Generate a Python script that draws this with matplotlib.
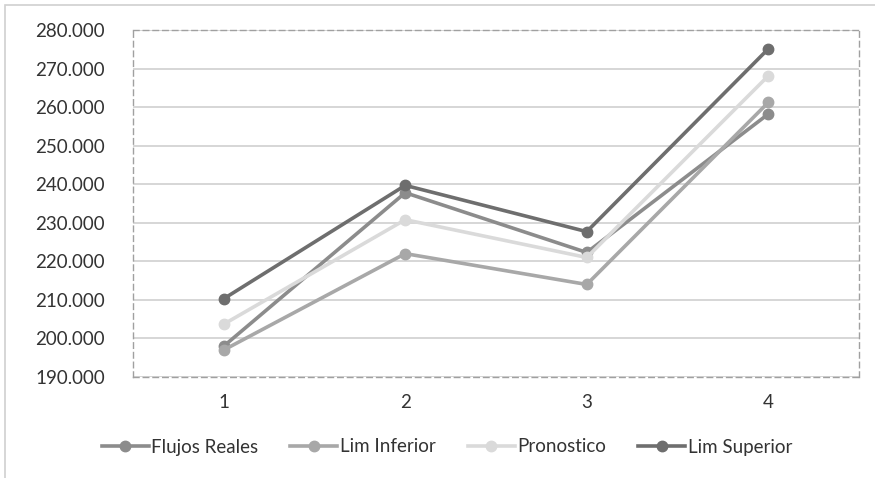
import matplotlib.pyplot as plt
from matplotlib.patches import Rectangle
from matplotlib.ticker import FuncFormatter

plt.rcParams['font.family'] = ['Lato', 'DejaVu Sans']

periodos = [1, 2, 3, 4]
flujos_reales = [198.0, 237.8, 222.3, 258.2]
lim_inferior = [197.0, 222.0, 214.0, 261.2]
pronostico = [203.7, 230.8, 221.0, 268.1]
lim_superior = [210.3, 239.7, 227.7, 275.1]

series = [
    ('Flujos Reales', flujos_reales, '#8c8c8c'),
    ('Lim Inferior', lim_inferior, '#a8a8a8'),
    ('Pronostico', pronostico, '#dadada'),
    ('Lim Superior', lim_superior, '#6e6e6e'),
]

fig = plt.figure(figsize=(8.75, 4.78), dpi=100)
ax = fig.add_axes([133 / 875, 1 - 377 / 478, 726 / 875, 347 / 478])

# marco exterior del grafico
fig.patches.append(Rectangle((5 / 875, -0.1), 1.2, 1 - 5 / 478 + 0.1,
                             transform=fig.transFigure, fill=False,
                             edgecolor='#d0d0d0', linewidth=1.2))

for nombre, valores, color in series:
    ax.plot(periodos, valores, color=color, linewidth=2.6, marker='o',
            markersize=7.5, label=nombre, zorder=3)

ax.set_xlim(0.5, 4.5)
ax.set_ylim(190, 280)
ax.set_yticks(range(190, 281, 10))
ax.set_xticks(periodos)
ax.yaxis.set_major_formatter(FuncFormatter(lambda v, p: '%d.000' % v))
ax.grid(axis='y', color='#cfcfcf', linewidth=1.2, zorder=0)
ax.tick_params(length=0, labelsize=13.5, colors='#333333')
ax.tick_params(axis='y', pad=20)
ax.tick_params(axis='x', pad=12)
for s in ax.spines.values():
    s.set_color('#a0a0a0')
    s.set_linestyle((0, (4, 3)))
    s.set_linewidth(1.0)

fig.legend(*ax.get_legend_handles_labels(), loc='center',
           bbox_to_anchor=(447 / 875, 1 - 447 / 478), ncol=4,
           frameon=False, fontsize=13.5, handlelength=2.5, handletextpad=0.15,
           columnspacing=1.7, labelcolor='#333333')

fig.savefig('out.png', dpi=100)
